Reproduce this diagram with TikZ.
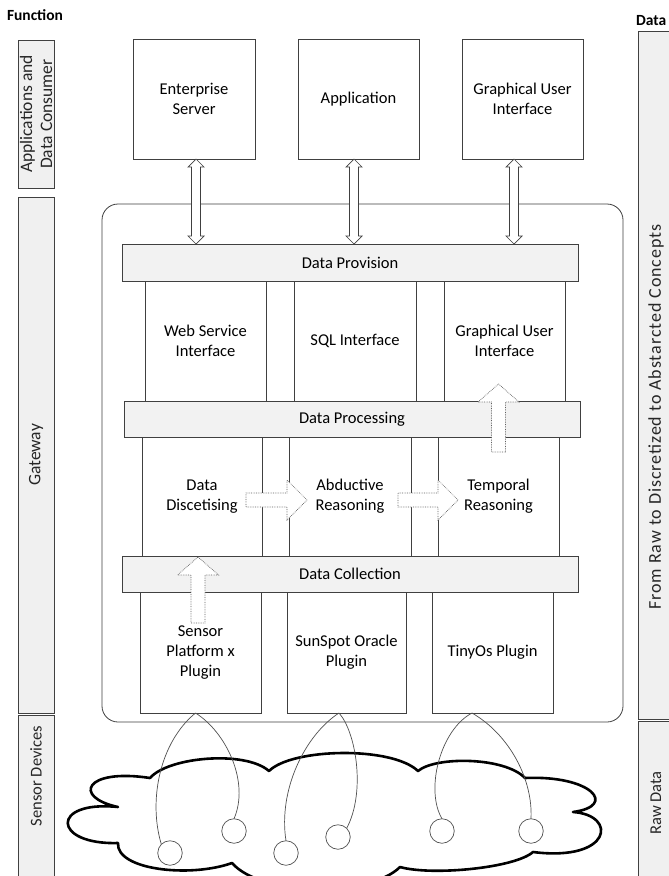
\documentclass[tikz,border=0pt]{standalone}
\usepackage{fontspec}
\setmainfont{Carlito}
\newfontfamily\spacedfont[LetterSpace=5]{Carlito}
\usetikzlibrary{calc}
\definecolor{linegray}{HTML}{404040}
\definecolor{barfill}{HTML}{F2F2F2}
\definecolor{sidefill}{HTML}{F0F0F0}
\definecolor{curvegray}{HTML}{505050}
\definecolor{dotgray}{HTML}{606060}
\newcommand{\myDblArrow}[2]{%
  \draw[blockarr] (#1) -- ($(#1)+(8,8)$) -- ($(#1)+(4.5,8)$) -- ($(#2)+(4.5,-8)$) -- ($(#2)+(8,-8)$) -- (#2) -- ($(#2)+(-8,-8)$) -- ($(#2)+(-4.5,-8)$) -- ($(#1)+(-4.5,8)$) -- ($(#1)+(-8,8)$) -- cycle;}
\newcommand{\myUpArrow}[2]{%
  \draw[dotarr] (#1) -- ($(#1)+(20.5,18)$) -- ($(#1)+(7,18)$) -- ($(#2)+(7,0)$) -- ($(#2)+(-7,0)$) -- ($(#1)+(-7,18)$) -- ($(#1)+(-20.5,18)$) -- cycle;}
\newcommand{\myRightArrow}[2]{%
  \draw[dotarr] (#2) -- ($(#2)+(-20,-20)$) -- ($(#2)+(-20,-7)$) -- ($(#1)+(0,-7)$) -- ($(#1)+(0,7)$) -- ($(#2)+(-20,7)$) -- ($(#2)+(-20,20)$) -- cycle;}
\begin{document}
\begin{tikzpicture}[x=1pt,y=-1pt,
  every node/.style={font=\fontsize{16.5}{20}\selectfont, inner sep=0pt, outer sep=0pt},
  box/.style={draw=linegray, fill=white, line width=0.8pt, align=center},
  bar/.style={draw=linegray, fill=barfill, line width=0.8pt, align=center},
  side/.style={draw=linegray, fill=sidefill, line width=0.8pt},
  sidetext/.style={rotate=90, align=center, text=black!85},
  blockarr/.style={draw=linegray, fill=white, line width=0.7pt},
  dotarr/.style={draw=dotgray, fill=white, line width=0.7pt, densely dotted},
  wire/.style={draw=curvegray, line width=0.7pt},
  sensor/.style={circle, draw=curvegray, fill=white, line width=0.7pt, minimum size=24.5pt},
  cloudline/.style={draw=black, fill=white, line width=2.6pt, line join=round},
  title/.style={anchor=west, font=\fontsize{15.5}{18}\selectfont\bfseries}
]
\clip (0,0) rectangle (669,876);
\fill[white] (0,0) rectangle (669,876);

% titles
\node[title] (tfun) at (7,15) {Function};
\node[title] (tdata) at (636,21) {Data};

% left side bars
\draw[side] (18,40) rectangle (54,188);
\node[sidetext, font=\fontsize{17.5}{20}\selectfont] (sl1) at (36,114) {Applications and\\Data Consumer};
\draw[side] (18,197) rectangle (54,713);
\node[sidetext, font=\fontsize{17.5}{20}\selectfont] (sl2) at (36,455) {Gateway};
\draw[side] (18,715) rectangle (54,900);
\node[sidetext] (sl3) at (36,776) {Sensor Devices};

% right side bars
\draw[side] (638,31) rectangle (674,719);
\node[sidetext, font=\spacedfont\fontsize{18}{20}\selectfont] (sr1) at (656,417) {From Raw to Discretized to Abstarcted Concepts};
\draw[side] (638,721) rectangle (674,900);
\node[sidetext] (sr2) at (656,803) {Raw Data};

% gateway container
\draw[draw=linegray, line width=0.8pt, rounded corners=16pt] (102,204) rectangle (623,722);

% top boxes
\node[box, minimum width=122, minimum height=120] (es) at (194,99) {Enterprise\\Server};
\node[box, minimum width=121, minimum height=120] (app) at (358.5,99) {Application};
\node[box, minimum width=121, minimum height=120] (gui) at (522.5,99) {Graphical User\\Interface};

% row 1
\node[box, minimum width=121, minimum height=120] (ws) at (205.5,341) {Web Service\\Interface};
\node[box, minimum width=122, minimum height=120] (sql) at (355,341) {SQL Interface};
\node[box, minimum width=121, minimum height=120] (gui2) at (504.5,341) {Graphical User\\Interface};
% row 2
\node[box, minimum width=120, minimum height=119] (disc) at (202,496.5) {Data\\Discetising};
\node[box, minimum width=122, minimum height=119] (abd) at (350,496.5) {Abductive\\Reasoning};
\node[box, minimum width=121, minimum height=119] (temp) at (498.5,496.5) {Temporal\\Reasoning};
% row 3
\node[box, minimum width=121, minimum height=121] (spx) at (200.5,652.5) {Sensor\\Platform x\\Plugin};
\node[box, minimum width=119, minimum height=121] (sun) at (346.5,652.5) {SunSpot Oracle\\Plugin};
\node[box, minimum width=121, minimum height=121] (tiny) at (492.5,652.5) {TinyOs Plugin};

% layer bars
\node[bar, minimum width=456, minimum height=37] (prov) at (350,262.5) {Data Provision};
\node[bar, minimum width=456, minimum height=36] (proc) at (352,419) {Data Processing};
\node[bar, minimum width=456, minimum height=36] (coll) at (350,574) {Data Collection};

% double arrows between consumers and data provision
\path ($(es.south)+(2,0)$) coordinate (d1t);
\path (d1t |- prov.north) coordinate (d1b);
\path ($(app.south)+(-4.5,0)$) coordinate (d2t);
\path (d2t |- prov.north) coordinate (d2b);
\path ($(gui.south)+(-8.5,0)$) coordinate (d3t);
\path (d3t |- prov.north) coordinate (d3b);
\myDblArrow{d1t}{d1b}
\myDblArrow{d2t}{d2b}
\myDblArrow{d3t}{d3b}

% dotted flow arrows
\coordinate (u1t) at (198,557);
\coordinate (u1b) at (198,623);
\myUpArrow{u1t}{u1b}
\coordinate (r1s) at (246,500);
\coordinate (r1t) at (307,500);
\myRightArrow{r1s}{r1t}
\coordinate (r2s) at (398,500);
\coordinate (r2t) at (458,500);
\myRightArrow{r2s}{r2t}
\coordinate (u2t) at (498.5,384);
\coordinate (u2b) at (498.5,452);
\myUpArrow{u2t}{u2b}

% cloud
\draw[cloudline] (150,778)
  .. controls (168,757) and (245,750) .. (269,771)
  .. controls (292,748) and (392,746) .. (418,771)
  .. controls (436,756) and (505,757) .. (525,778)
  .. controls (592,775) and (618,806) .. (573,812)
  .. controls (618,815) and (612,862) .. (533,852)
  .. controls (515,868) and (432,876) .. (400,867)
  .. controls (370,897) and (262,897) .. (232,863)
  .. controls (190,878) and (116,870) .. (118,843)
  .. controls (52,845) and (50,800) .. (118,807)
  .. controls (72,797) and (85,768) .. (150,778) -- cycle;

% sensors
\node[sensor] (c1) at (170,853) {};
\node[sensor] (c2) at (234,831) {};
\node[sensor] (c3) at (286,853) {};
\node[sensor] (c4) at (338,837) {};
\node[sensor] (c5) at (442,831) {};
\node[sensor] (c6) at (531,831) {};

% wires
\path ($(spx.south)+(-5,0)$) coordinate (a1);
\path ($(sun.south)+(-7.5,0)$) coordinate (a2);
\path ($(tiny.south)+(-20.5,0)$) coordinate (a3);
\draw[wire] (a1) .. controls (160,742) and (148,800) .. (c1.north west);
\draw[wire] (a1) .. controls (226,732) and (250,782) .. (c2.north);
\draw[wire] (a2) .. controls (305,735) and (278,790) .. (c3.north);
\draw[wire] (a2) .. controls (356,732) and (366,792) .. (c4.north east);
\draw[wire] (a3) .. controls (440,730) and (425,790) .. (c5.north);
\draw[wire] (a3) .. controls (510,735) and (533,780) .. (c6.north);
\end{tikzpicture}
\end{document}
